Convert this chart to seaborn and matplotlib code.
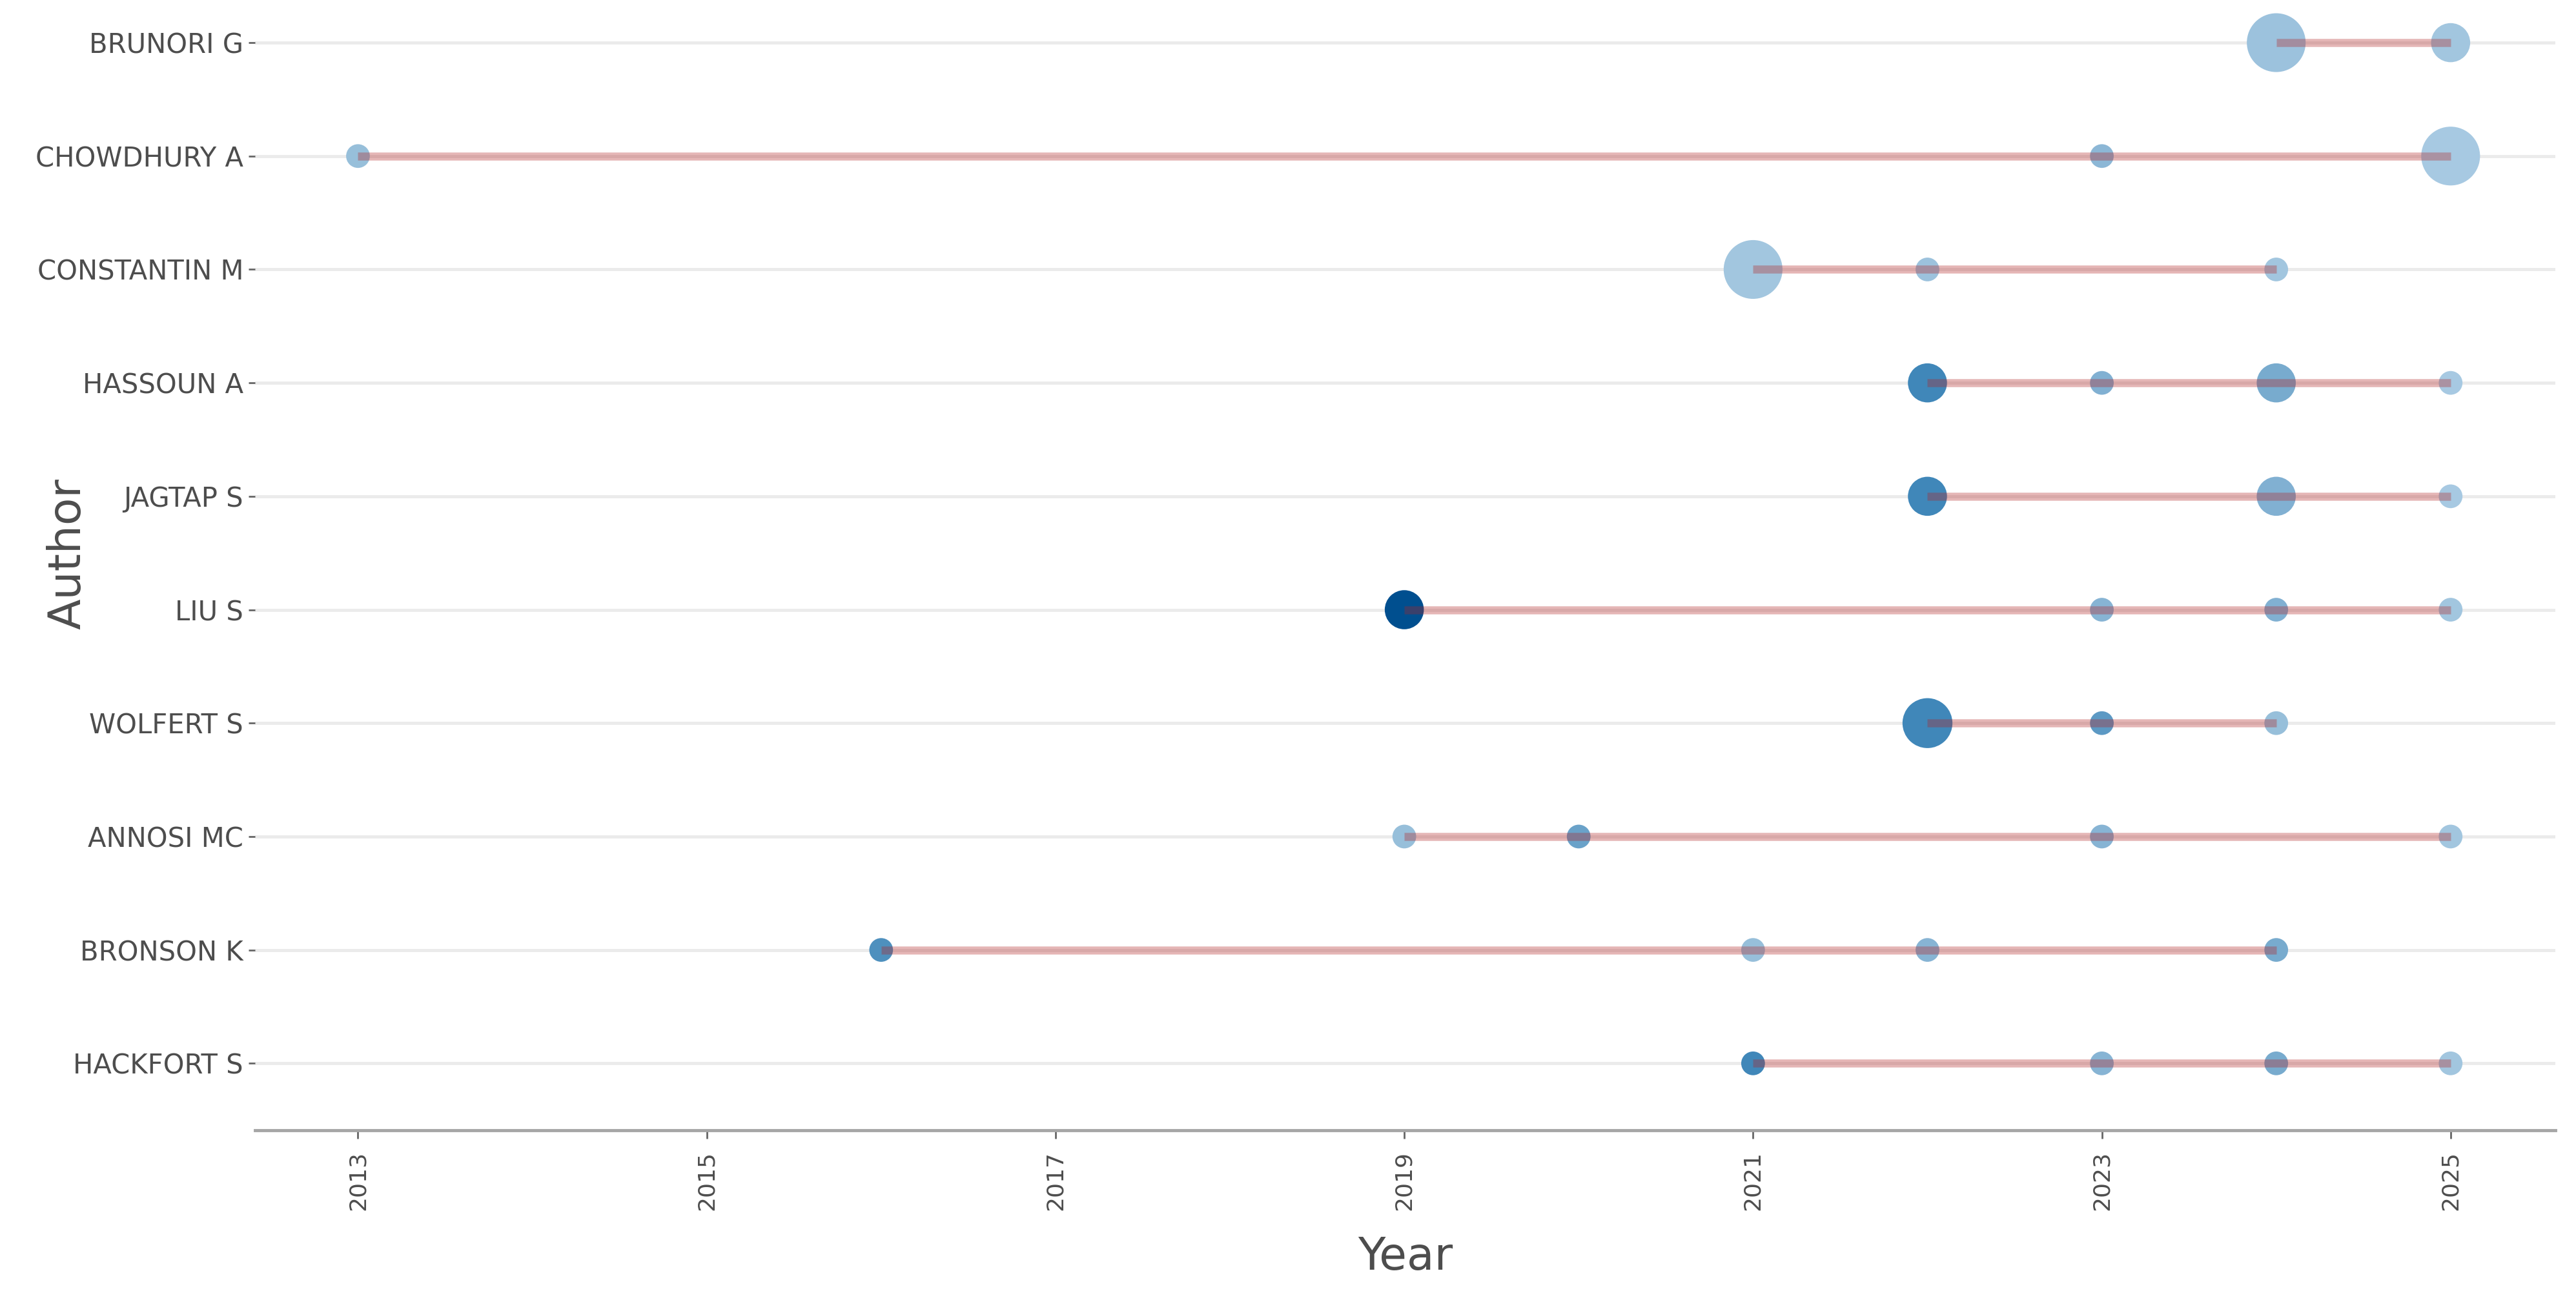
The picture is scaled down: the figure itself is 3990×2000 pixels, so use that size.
"""Authors' production over time: one row per author, bubbles per year."""

import matplotlib
matplotlib.use("Agg")
import matplotlib.pyplot as plt
import pandas as pd
import seaborn as sns
from matplotlib.colors import LinearSegmentedColormap

AUTHORS = [
    "BRUNORI G", "CHOWDHURY A", "CONSTANTIN M", "HASSOUN A", "JAGTAP S",
    "LIU S", "WOLFERT S", "ANNOSI MC", "BRONSON K", "HACKFORT S",
]

# one entry per bubble: author, year, number of articles, total citations per year
PT_AUTHOR = [
    "BRUNORI G", "BRUNORI G",
    "CHOWDHURY A", "CHOWDHURY A", "CHOWDHURY A",
    "CONSTANTIN M", "CONSTANTIN M", "CONSTANTIN M",
    "HASSOUN A", "HASSOUN A", "HASSOUN A", "HASSOUN A",
    "JAGTAP S", "JAGTAP S", "JAGTAP S",
    "LIU S", "LIU S", "LIU S", "LIU S",
    "WOLFERT S", "WOLFERT S", "WOLFERT S",
    "ANNOSI MC", "ANNOSI MC", "ANNOSI MC", "ANNOSI MC",
    "BRONSON K", "BRONSON K", "BRONSON K", "BRONSON K",
    "HACKFORT S", "HACKFORT S", "HACKFORT S", "HACKFORT S",
]
PT_YEAR = [
    2024, 2025,
    2013, 2023, 2025,
    2021, 2022, 2024,
    2022, 2023, 2024, 2025,
    2022, 2024, 2025,
    2019, 2023, 2024, 2025,
    2022, 2023, 2024,
    2019, 2020, 2023, 2025,
    2016, 2021, 2022, 2024,
    2021, 2023, 2024, 2025,
]
PT_FREQ = [
    4, 2,
    1, 1, 4,
    4, 1, 1,
    2, 1, 2, 1,
    2, 2, 1,
    2, 1, 1, 1,
    3, 1, 1,
    1, 1, 1, 1,
    1, 1, 1, 1,
    1, 1, 1, 1,
]
PT_TC = [
    4, 3,
    5, 8, 2,
    3, 4, 3,
    35, 12, 15, 2,
    35, 12, 2,
    60, 10, 12, 3,
    35, 25, 5,
    5, 20, 10, 3,
    30, 5, 10, 15,
    35, 10, 15, 3,
]

YEAR_TICKS = [2013, 2015, 2017, 2019, 2021, 2023, 2025]

BLUES = LinearSegmentedColormap.from_list(
    "tc_blues",
    [(0.0, "#b0cfe6"), (0.1, "#92bbd8"), (0.6, "#3d85b8"), (1.0, "#004f8f")],
)

df = pd.DataFrame({"author": PT_AUTHOR, "year": PT_YEAR, "freq": PT_FREQ, "tc": PT_TC})
df["row"] = df["author"].map({a: i for i, a in enumerate(AUTHORS)})
spans = df.groupby("row")["year"].agg(["min", "max"]).reset_index()

sns.set_theme(style="white")
plt.rcParams["font.family"] = ["DejaVu Sans"]

fig = plt.figure(figsize=(39.91, 20), dpi=100)
ax = fig.add_axes([0.099, 0.1245, 0.8927, 0.8755])

for i in range(len(AUTHORS)):
    ax.axhline(i, color="#ebebeb", lw=3.5, zorder=0)

sns.scatterplot(
    data=df, x="year", y="row",
    size="freq", sizes=(700, 4300), size_norm=(1, 4),
    hue="tc", palette=BLUES, hue_norm=(0, 60),
    linewidth=0, alpha=1, legend=False, zorder=2, ax=ax,
)
ax.hlines(spans["row"], spans["min"], spans["max"],
          color="firebrick", alpha=0.33, lw=9, zorder=3)

ax.set_xlim(2012.41, 2025.6)
ax.set_ylim(9.59, -0.376)
ax.set_xticks(YEAR_TICKS)
ax.set_xticklabels([str(y) for y in YEAR_TICKS], rotation=90)
ax.set_yticks(range(len(AUTHORS)))
ax.set_yticklabels(AUTHORS)

for side in ["top", "right", "left"]:
    ax.spines[side].set_visible(False)
ax.spines["bottom"].set_color("#a6a6a6")
ax.spines["bottom"].set_linewidth(3.5)

ax.tick_params(axis="x", length=9, width=2, color="#666666", labelsize=26,
               labelcolor="#4d4d4d", pad=14, bottom=True)
ax.tick_params(axis="y", length=7, width=2, color="#666666", labelsize=30,
               labelcolor="#4d4d4d", pad=6, left=True)

ax.set_xlabel("Year", fontsize=50, color="#4d4d4d", labelpad=28)
ax.set_ylabel("Author", fontsize=50, color="#4d4d4d")
ax.yaxis.set_label_coords(-0.072, 0.51)

fig.savefig("out.png", dpi=100)
